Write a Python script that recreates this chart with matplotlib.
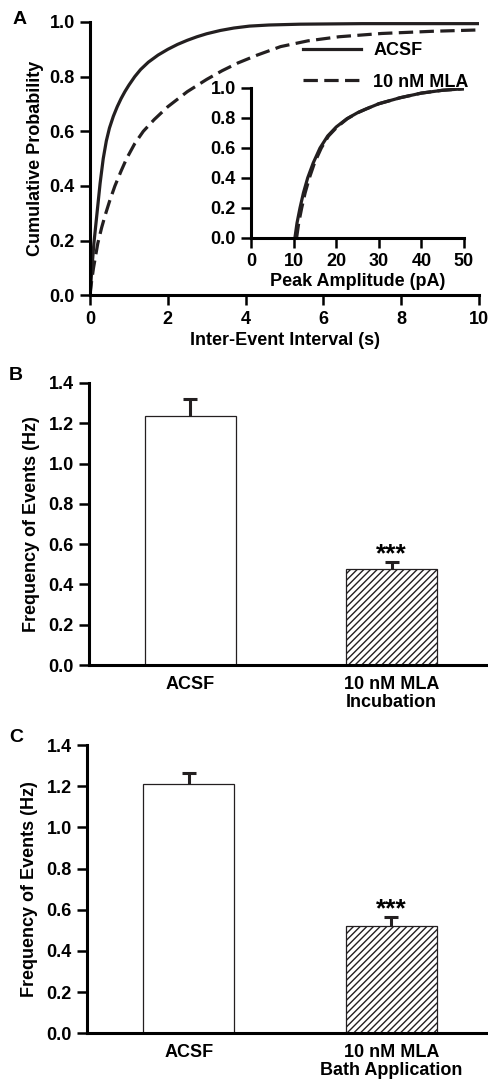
import numpy as np
import matplotlib
matplotlib.use('Agg')
import matplotlib.pyplot as plt
from matplotlib.lines import Line2D

plt.rcParams['font.family'] = ['Liberation Sans', 'DejaVu Sans']
plt.rcParams['font.weight'] = 'bold'
plt.rcParams['axes.labelweight'] = 'bold'
plt.rcParams['font.size'] = 13
plt.rcParams['hatch.linewidth'] = 1.0

# Panel A: cumulative distributions of inter-event interval (s)
acsf_iei_x = [0, 0.05, 0.1, 0.18, 0.26, 0.34, 0.42, 0.5, 0.6, 0.7, 0.8, 0.9, 1.0, 1.15, 1.3,
              1.5, 1.75, 2.0, 2.25, 2.5, 2.75, 3.0, 3.35, 3.7, 4.1, 4.6, 5.4, 7.0, 10.0]
acsf_iei_y = [0, 0.1, 0.19, 0.3, 0.41, 0.5, 0.565, 0.612, 0.655, 0.69, 0.72, 0.746, 0.769, 0.8, 0.826,
              0.853, 0.879, 0.9, 0.918, 0.933, 0.946, 0.957, 0.969, 0.978, 0.985, 0.989, 0.992, 0.994, 0.994]
mla_iei_x = [0, 0.04, 0.09, 0.2, 0.3, 0.39, 0.5, 0.64, 0.8, 0.94, 1.15, 1.37, 1.65, 2.0, 2.5,
             3.0, 3.4, 3.8, 4.3, 4.9, 5.6, 6.4, 7.5, 8.8, 10.0]
mla_iei_y = [0, 0.05, 0.1, 0.19, 0.248, 0.293, 0.343, 0.4, 0.455, 0.5, 0.555, 0.6, 0.643, 0.69, 0.745,
             0.79, 0.822, 0.85, 0.879, 0.91, 0.931, 0.946, 0.958, 0.966, 0.971]

# Inset: cumulative distributions of peak amplitude (pA)
acsf_amp_x = [10.3, 10.8, 11.5, 12.3, 13.3, 14.6, 16.2, 18, 20, 22.5, 25, 27, 30, 35, 40, 45, 50]
acsf_amp_y = [0, 0.1, 0.2, 0.3, 0.4, 0.5, 0.6, 0.68, 0.74, 0.795, 0.835, 0.86, 0.895, 0.935,
              0.966, 0.985, 0.995]
mla_amp_x = [10.7, 11.2, 11.9, 12.7, 13.7, 14.9, 16.5, 18.2, 20.2, 22.6, 25, 27, 30, 35, 40, 45, 50]
mla_amp_y = [0, 0.1, 0.2, 0.3, 0.4, 0.5, 0.6, 0.68, 0.74, 0.795, 0.835, 0.86, 0.895, 0.935,
             0.966, 0.985, 0.995]

# Panels B and C: event frequency (Hz), mean and SEM
bar_labels_b = ['ACSF', '10 nM MLA\nIncubation']
freq_b = [1.238, 0.479]
sem_b = [0.082, 0.032]
bar_labels_c = ['ACSF', '10 nM MLA\nBath Application']
freq_c = [1.213, 0.521]
sem_c = [0.05, 0.043]

W, H = 488, 1082
fig = plt.figure(figsize=(W / 100, H / 100), dpi=100)


def px_axes(left, top, right, bottom):
    return fig.add_axes([left / W, 1 - bottom / H, (right - left) / W, (bottom - top) / H])


def style(ax):
    for s in ['top', 'right']:
        ax.spines[s].set_visible(False)
    for s in ['left', 'bottom']:
        ax.spines[s].set_linewidth(2.2)
    ax.tick_params(direction='out', length=7, width=1.8, pad=4, labelsize=13)


dash = (0, (4.5, 2))

# Panel A
axA = px_axes(90, 22, 479, 295.3)
style(axA)
axA.plot(acsf_iei_x, acsf_iei_y, color='#231f20', lw=2.3)
axA.plot(mla_iei_x, mla_iei_y, color='#231f20', lw=2.3, linestyle=dash)
axA.set_xlim(0, 10)
axA.set_ylim(0, 1.0)
axA.set_xticks([0, 2, 4, 6, 8, 10])
axA.set_yticks(np.arange(0, 1.01, 0.2))
axA.yaxis.set_major_formatter(plt.FormatStrFormatter('%.1f'))
axA.set_xlabel('Inter-Event Interval (s)', labelpad=3)
axA.set_ylabel('Cumulative Probability', labelpad=4)
handles = [Line2D([], [], color='#231f20', lw=2.3),
           Line2D([], [], color='#231f20', lw=2.3, linestyle=dash)]
axA.legend(handles, ['ACSF', '10 nM MLA'], loc='upper left', bbox_to_anchor=(0.547, 0.927),
           frameon=False, handlelength=3.2, handletextpad=0.7, labelspacing=0.82,
           borderpad=0, borderaxespad=0, fontsize=13)
fig.text(20 / W, 1 - 19 / H, 'A', ha='center', va='center', fontsize=14)

# Inset
axI = px_axes(251, 88, 464, 238)
style(axI)
axI.patch.set_alpha(0)
axI.plot(acsf_amp_x, acsf_amp_y, color='#231f20', lw=2.3)
axI.plot(mla_amp_x, mla_amp_y, color='#231f20', lw=2.3, linestyle=dash)
axI.set_xlim(0, 50)
axI.set_ylim(0, 1.0)
axI.set_xticks([0, 10, 20, 30, 40, 50])
axI.set_yticks(np.arange(0, 1.01, 0.2))
axI.yaxis.set_major_formatter(plt.FormatStrFormatter('%.1f'))
axI.set_xlabel('Peak Amplitude (pA)', labelpad=2)


def bar_panel(ax, labels, vals, errs, letter, letter_y):
    style(ax)
    x = np.arange(len(vals))
    ax.bar(x, vals, width=0.45, color=['white', 'white'], edgecolor='#231f20',
           linewidth=0.9, hatch=['', '/////'], zorder=2)
    _, caps, _ = ax.errorbar(x, vals, yerr=[np.zeros(len(errs)), errs], fmt='none',
                             ecolor='#231f20', elinewidth=2.2, capsize=5, capthick=2.2, zorder=3)
    caps[0].set_visible(False)
    ax.text(x[1], vals[1] + errs[1] + 0.005, '***', ha='center', va='baseline', fontsize=19)
    ax.set_xlim(-0.502, 1.478)
    ax.set_ylim(0, 1.4)
    ax.set_yticks(np.arange(0, 1.41, 0.2))
    ax.yaxis.set_major_formatter(plt.FormatStrFormatter('%.1f'))
    ax.set_xticks(x)
    ax.set_xticklabels(labels, linespacing=1.05)
    ax.tick_params(axis='x', length=0, pad=8)
    ax.set_ylabel('Frequency of Events (Hz)', labelpad=6)
    fig.text(16 / W, 1 - letter_y / H, letter, ha='center', va='center', fontsize=14)


axB = px_axes(89, 383, 488, 665)
bar_panel(axB, bar_labels_b, freq_b, sem_b, 'B', 376)

axC = px_axes(87, 745, 488, 1033.3)
bar_panel(axC, bar_labels_c, freq_c, sem_c, 'C', 738)

fig.savefig('out.png', dpi=100)
